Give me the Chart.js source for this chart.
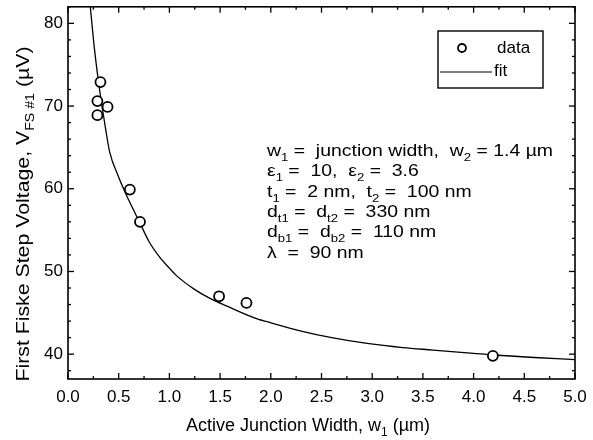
<!DOCTYPE html>
<html>
<head>
<meta charset="utf-8">
<script src="https://cdn.jsdelivr.net/npm/chart.js@4/dist/chart.umd.min.js"></script>
<style>
  html, body { margin: 0; padding: 0; background: #fff; }
</style>
</head>
<body>
<canvas id="chart" width="593" height="440"></canvas>
<script>
// measured points (w1 in um, V in uV)
const DATA_X = [0.29, 0.32, 0.39, 0.29, 0.61, 0.71, 1.49, 1.76, 4.19]
const DATA_Y = [70.6, 72.9, 69.9, 68.9, 59.9, 56.0, 47.0, 46.2, 39.8]

// fit curve
const FIT_X = [0.22, 0.26, 0.30, 0.33, 0.37, 0.41, 0.50, 0.60, 0.70, 0.80, 0.90, 1.00, 1.07, 1.24, 1.40, 1.57, 1.86, 2.00, 2.30, 2.60, 2.95, 3.30, 3.60, 4.00, 4.20, 4.60, 5.00]
const FIT_Y = [82.0, 77.0, 73.0, 70.4, 67.3, 64.5, 61.4, 58.6, 56.1, 53.6, 51.8, 50.4, 49.5, 47.9, 46.75, 45.8, 44.3, 43.8, 42.8, 42.0, 41.3, 40.8, 40.5, 40.1, 39.9, 39.6, 39.35]

const X_TICKS = [0.0, 0.5, 1.0, 1.5, 2.0, 2.5, 3.0, 3.5, 4.0, 4.5, 5.0]
const Y_TICKS = [40, 50, 60, 70, 80]
const X_RANGE = [0, 5]
const Y_RANGE = [37, 82]

const LEGEND_LABELS = ['data', 'fit']

// rich text: [text, isSubscript]
const X_TITLE = [['Active Junction Width, w', 0], ['1', 1], [' (\u00b5m)', 0]]
const Y_TITLE = [['First Fiske Step Voltage, V', 0], ['FS #1', 1], [' (\u00b5V)', 0]]
const NOTE_LINES = [
  [['w', 0], ['1', 1], [' =  junction width,  w', 0], ['2', 1], [' = 1.4 \u00b5m', 0]],
  [['\u03b5', 0], ['1', 1], [' =  10,  \u03b5', 0], ['2', 1], [' =  3.6', 0]],
  [['t', 0], ['1', 1], [' =  2 nm,  t', 0], ['2', 1], [' =  100 nm', 0]],
  [['d', 0], ['t1', 1], [' =  d', 0], ['t2', 1], [' =  330 nm', 0]],
  [['d', 0], ['b1', 1], [' =  d', 0], ['b2', 1], [' =  110 nm', 0]],
  [['\u03bb  =  90 nm', 0]]
]

const FONT = '"Liberation Sans", Arial, Helvetica, sans-serif'

function richWidth(ctx, parts, size, subSize) {
  let w = 0
  for (const [t, sub] of parts) {
    ctx.font = (sub ? subSize : size) + 'px ' + FONT
    w += ctx.measureText(t).width
  }
  return w
}

function drawRich(ctx, parts, x, y, size, subSize) {
  let cx = x
  for (const [t, sub] of parts) {
    ctx.font = (sub ? subSize : size) + 'px ' + FONT
    ctx.fillText(t, cx, sub ? y + size * 0.3 : y)
    cx += ctx.measureText(t).width
  }
}

function line(ctx, x1, y1, x2, y2) {
  ctx.beginPath()
  ctx.moveTo(x1, y1)
  ctx.lineTo(x2, y2)
  ctx.stroke()
}

const decorations = {
  id: 'decorations',
  afterDraw(chart) {
    const ctx = chart.ctx
    const { left, right, top, bottom } = chart.chartArea
    const xs = chart.scales.x
    const ys = chart.scales.y
    ctx.save()
    ctx.strokeStyle = '#000'
    ctx.fillStyle = '#000'

    // frame
    ctx.lineWidth = 1.6
    ctx.strokeRect(left, top, right - left, bottom - top)

    // inward ticks, all four sides
    ctx.lineWidth = 1.3
    for (let i = 0; i <= 20; i++) {
      const v = i * 0.25
      const px = xs.getPixelForValue(v)
      const len = i % 2 === 0 ? 6 : 3
      line(ctx, px, bottom, px, bottom - len)
      line(ctx, px, top, px, top + len)
    }
    for (let v = 38; v <= 82; v += 2) {
      const py = ys.getPixelForValue(v)
      const len = v % 10 === 0 ? 6 : 3
      line(ctx, left, py, left + len, py)
      line(ctx, right, py, right - len, py)
    }

    // legend box
    ctx.lineWidth = 1.4
    ctx.strokeRect(438, 31, 105, 57)
    ctx.beginPath()
    ctx.arc(462, 48, 4, 0, Math.PI * 2)
    ctx.lineWidth = 1.8
    ctx.stroke()
    ctx.lineWidth = 1.2
    line(ctx, 440, 72, 492, 72)
    ctx.font = '17px ' + FONT
    ctx.textBaseline = 'middle'
    ctx.textAlign = 'left'
    ctx.fillText(LEGEND_LABELS[0], 497, 48)
    ctx.fillText(LEGEND_LABELS[1], 494, 71)

    // parameter note, widened to the reference line length
    ctx.textBaseline = 'alphabetic'
    const noteStretch = 286 / richWidth(ctx, NOTE_LINES[0], 17, 11.5)
    NOTE_LINES.forEach((parts, i) => {
      ctx.save()
      ctx.translate(267, 156 + i * 20.3)
      ctx.scale(noteStretch, 1)
      drawRich(ctx, parts, 0, 0, 17, 11.5)
      ctx.restore()
    })

    // x title
    const xw = richWidth(ctx, X_TITLE, 18, 12)
    drawRich(ctx, X_TITLE, 308 - xw / 2, 431, 18, 12)

    // y title, rotated and stretched to the reference length
    const yw = richWidth(ctx, Y_TITLE, 18, 12)
    const stretch = 335 / yw
    ctx.translate(29, 214)
    ctx.rotate(-Math.PI / 2)
    ctx.scale(stretch, 1)
    drawRich(ctx, Y_TITLE, -yw / 2, 0, 18, 12)

    ctx.restore()
  }
}

new Chart(document.getElementById('chart'), {
  type: 'scatter',
  data: {
    datasets: [
      {
        label: 'fit',
        data: FIT_X.map((x, i) => ({ x, y: FIT_Y[i] })),
        showLine: true,
        borderColor: '#000',
        borderWidth: 1.3,
        pointRadius: 0,
        cubicInterpolationMode: 'monotone',
        order: 2,
      },
      {
        label: 'data',
        data: DATA_X.map((x, i) => ({ x, y: DATA_Y[i] })),
        pointRadius: 5,
        pointBorderWidth: 1.8,
        borderColor: '#000',
        backgroundColor: '#fff',
        order: 1,
      }
    ]
  },
  options: {
    responsive: false,
    animation: false,
    devicePixelRatio: 1,
    layout: { padding: { top: 5, right: 18, left: 0, bottom: 0 } },
    plugins: {
      legend: { display: false },
      tooltip: { enabled: false },
    },
    scales: {
      x: {
        type: 'linear',
        min: X_RANGE[0],
        max: X_RANGE[1],
        grid: { display: false, drawTicks: false },
        border: { display: false },
        ticks: {
          color: '#000',
          padding: 8,
          font: { family: FONT, size: 17 },
          callback: (v) => v.toFixed(1),
        },
        afterBuildTicks: (s) => { s.ticks = X_TICKS.map(value => ({ value })) },
        afterFit: (s) => { s.height = 61; s.paddingLeft = 0; s.paddingRight = 0 },
      },
      y: {
        type: 'linear',
        min: Y_RANGE[0],
        max: Y_RANGE[1],
        grid: { display: false, drawTicks: false },
        border: { display: false },
        ticks: {
          color: '#000',
          padding: 5,
          font: { family: FONT, size: 17 },
        },
        afterBuildTicks: (s) => { s.ticks = Y_TICKS.map(value => ({ value })) },
        afterFit: (s) => { s.width = 68; s.paddingTop = 0; s.paddingBottom = 0 },
      }
    }
  },
  plugins: [decorations]
})
</script>
</body>
</html>
